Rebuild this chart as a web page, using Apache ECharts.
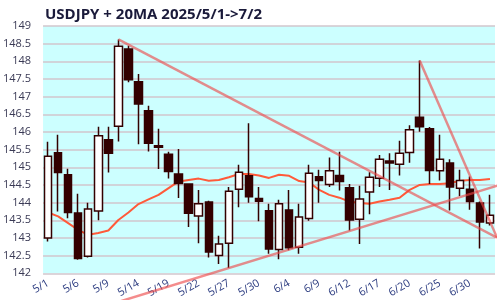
<!DOCTYPE html>
<html>
<head>
<meta charset="utf-8">
<script src="https://cdn.jsdelivr.net/npm/echarts@6/dist/echarts.min.js"></script>
<style>
html,body{margin:0;padding:0;background:#ffffff;}
#chart{width:500px;height:300px;}
</style>
</head>
<body>
<div id="chart"></div>
<script>
const dates = ['5/1','5/2','5/5','5/6','5/7','5/8','5/9','5/12','5/13','5/14','5/15','5/16','5/19','5/20','5/21','5/22','5/23','5/26','5/27','5/28','5/29','5/30','6/2','6/3','6/4','6/5','6/6','6/9','6/10','6/11','6/12','6/13','6/16','6/17','6/18','6/19','6/20','6/23','6/24','6/25','6/26','6/27','6/30','7/1','7/2'];
const openV  = [143.00,145.41,144.79,143.71,142.48,143.76,145.78,146.16,148.35,147.42,146.60,145.61,145.37,144.81,144.53,143.62,144.02,142.50,142.85,144.38,144.76,144.12,143.77,142.67,143.79,142.74,143.55,144.73,144.51,144.77,144.42,143.53,144.30,144.69,145.18,145.09,145.42,146.42,146.09,144.90,145.12,144.41,144.38,143.99,143.42];
const closeV = [145.31,144.85,143.72,142.42,143.82,145.89,145.40,148.43,147.48,146.79,145.68,145.57,144.88,144.54,143.70,143.97,142.60,142.83,144.32,144.86,144.17,144.04,142.69,143.97,142.72,143.59,144.83,144.63,144.90,144.60,143.51,144.10,144.72,145.23,145.12,145.40,146.06,146.15,144.91,145.23,144.44,144.63,144.03,143.45,143.64];
const lowV   = [142.90,143.75,143.56,142.38,142.45,143.50,144.85,145.73,147.41,145.65,145.45,144.95,144.68,144.13,143.31,142.85,142.45,142.26,142.15,143.87,144.00,143.47,142.55,142.40,142.65,142.55,143.49,144.00,144.44,144.34,143.21,142.83,143.67,144.44,144.36,144.77,145.13,146.01,144.53,144.63,143.78,144.19,143.80,142.70,143.35];
const highV  = [145.72,145.92,144.96,144.25,144.00,146.15,146.15,148.62,148.44,147.64,146.74,146.09,145.44,145.52,144.55,144.36,144.05,143.06,144.44,145.07,146.25,144.44,143.97,144.08,144.36,143.97,145.07,144.93,145.28,145.44,144.53,144.48,144.86,145.35,145.40,145.75,146.19,148.02,146.14,145.92,145.23,144.93,144.74,144.03,144.22];
const ma20   = [143.72,143.61,143.42,143.23,143.09,143.14,143.21,143.51,143.72,143.96,144.09,144.22,144.41,144.60,144.64,144.68,144.62,144.64,144.72,144.81,144.81,144.77,144.70,144.79,144.76,144.61,144.57,144.36,144.22,144.14,144.03,143.99,143.97,144.03,144.08,144.14,144.36,144.50,144.53,144.53,144.55,144.62,144.64,144.64,144.67];
// trend lines: [category index, price]
const trendHigh1 = [[7,148.62],[44.7,143.01]];
const trendHigh2 = [[37,148.02],[44.7,143.01]];
const trendLow   = [[7,141.19],[46,144.59]];
const yTicks = {min:142, max:149, interval:0.5};

const candleData = dates.map((d,i)=>[openV[i],closeV[i],lowV[i],highV[i]]);
const chart = echarts.init(document.getElementById('chart'), null, {renderer:'canvas'});
const trendStyle = {color:'rgba(238,70,70,0.62)', width:2.5};
chart.setOption({
  animation:false,
  backgroundColor:'#ffffff',
  title:{
    text:'USDJPY + 20MA 2025/5/1->7/2',
    left:40, top:2,
    textStyle:{fontFamily:'Open Sans', fontWeight:'bold', fontSize:15, color:'#1a1a3a'}
  },
  grid:{left:41, right:5, top:26, bottom:26.5, show:true, backgroundColor:'#ccffff', borderWidth:0},
  xAxis:[{
    type:'category', data:dates, boundaryGap:true,
    axisLine:{show:false}, axisTick:{show:false},
    axisLabel:{interval:2, rotate:30, margin:9, fontSize:11, fontFamily:'Open Sans', color:'#2c3c80'},
    splitLine:{show:false}
  },{
    type:'value', min:-0.5, max:dates.length-0.5, show:false, splitLine:{show:false}
  }],
  yAxis:{
    type:'value', min:yTicks.min, max:yTicks.max, interval:yTicks.interval,
    axisLine:{show:false}, axisTick:{show:false},
    axisLabel:{margin:12, fontSize:11, fontFamily:'Open Sans', color:'#3a3a55'},
    splitLine:{show:true, lineStyle:{color:'#d2c6cc', width:1.5}}
  },
  series:[{
    type:'line', data:ma20, xAxisIndex:0, symbol:'none', z:2,
    lineStyle:{color:'#ff5a3a', width:2}
  },{
    type:'candlestick', data:candleData, xAxisIndex:0, barWidth:8, z:3,
    itemStyle:{color:'#ffffff', color0:'#330000', borderColor:'#330000', borderColor0:'#330000', borderWidth:1.5}
  },{
    type:'line', data:trendHigh1, xAxisIndex:1, symbol:'none', clip:false, z:4, lineStyle:trendStyle
  },{
    type:'line', data:trendHigh2, xAxisIndex:1, symbol:'none', clip:false, z:4, lineStyle:trendStyle
  },{
    type:'line', data:trendLow, xAxisIndex:1, symbol:'none', clip:false, z:4, lineStyle:trendStyle
  }]
});
</script>
</body>
</html>
